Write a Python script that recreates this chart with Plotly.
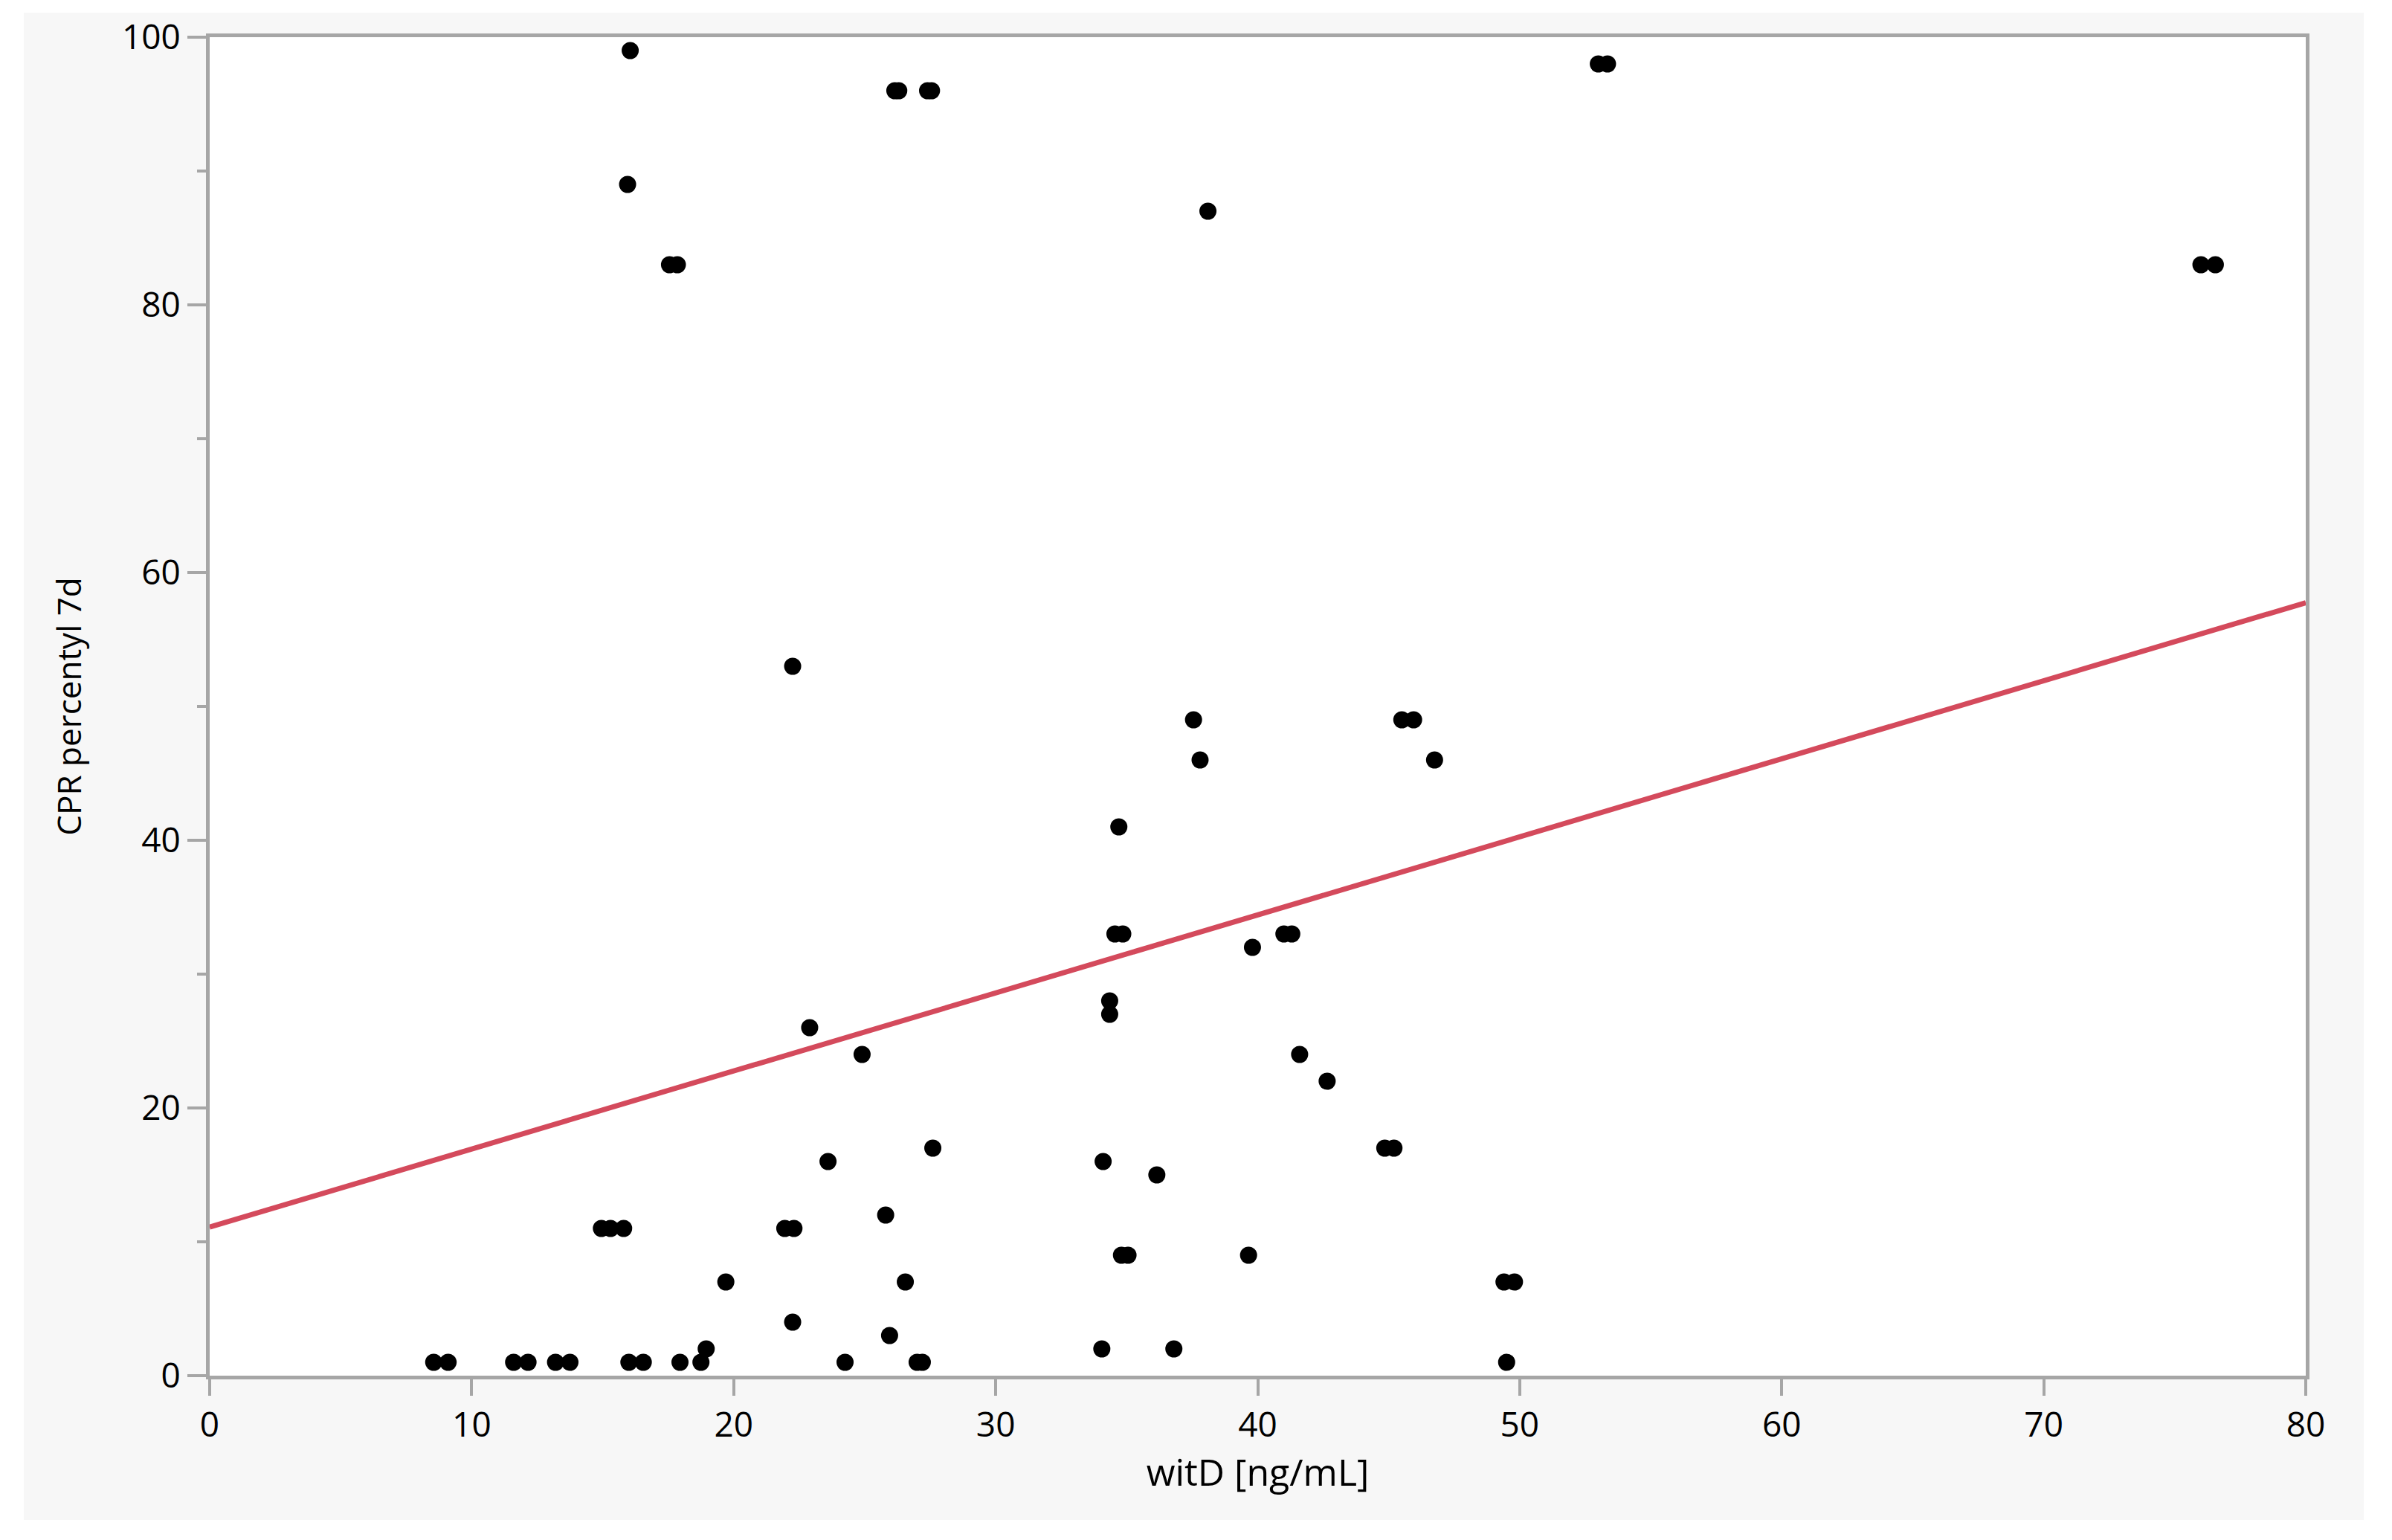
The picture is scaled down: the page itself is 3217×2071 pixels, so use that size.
import plotly.graph_objects as go

# witD vs CPR percentile
witd = [8.55, 9.1, 11.6, 12.15, 13.2, 13.75, 16.0, 16.55, 17.95, 18.75,
        18.95, 19.7, 14.95, 15.3, 15.8, 15.95, 16.05, 17.55, 17.85, 22.25,
        21.95, 22.3, 22.25, 22.9, 23.6, 24.25, 24.9, 25.8, 25.95, 26.55,
        27.0, 27.2, 26.15, 26.3, 27.4, 27.55, 27.6, 34.05, 34.1, 34.35,
        34.35, 34.55, 34.85, 34.7, 34.8, 35.05, 36.15, 36.8, 37.55, 37.8,
        38.1, 39.65, 39.8, 41.0, 41.3, 41.6, 42.65, 44.85, 45.2, 45.5,
        45.95, 46.75, 49.5, 49.4, 49.8, 53.0, 53.35, 76.0, 76.55]
cpr = [1, 1, 1, 1, 1, 1, 1, 1, 1, 1,
       2, 7, 11, 11, 11, 89, 99, 83, 83, 53,
       11, 11, 4, 26, 16, 1, 24, 12, 3, 7,
       1, 1, 96, 96, 96, 96, 17, 2, 16, 27,
       28, 33, 33, 41, 9, 9, 15, 2, 49, 46,
       87, 9, 32, 33, 33, 24, 22, 17, 17, 49,
       49, 46, 1, 7, 7, 98, 98, 83, 83]

# fitted line end points
fit_x = [0, 80]
fit_y = [11.1, 57.75]

x_ticks = [0, 10, 20, 30, 40, 50, 60, 70, 80]
y_ticks = [0, 20, 40, 60, 80, 100]

AXIS = '#a6a6a6'
FONT = "Open Sans, Noto Sans, sans-serif"

fig = go.Figure()
fig.add_trace(go.Scatter(x=witd, y=cpr, mode='markers',
                         marker=dict(color='black', size=23, line=dict(width=0)),
                         showlegend=False, cliponaxis=False))
fig.add_trace(go.Scatter(x=fit_x, y=fit_y, mode='lines',
                         line=dict(color='#d44a5c', width=7), showlegend=False))

# grey panel behind the frame, plot area stays white
fig.add_shape(type='rect', xref='paper', yref='paper', x0=-0.0887, x1=1.0277,
              y0=-0.1078, y1=1.0183, fillcolor='#f7f7f7', line_width=0, layer='below')
fig.add_shape(type='rect', xref='paper', yref='paper', x0=0, x1=1, y0=0, y1=1,
              fillcolor='white', line_width=0, layer='below')

fig.update_layout(width=3217, height=2071,
                  margin=dict(l=274, r=124, t=42, b=229),
                  paper_bgcolor='white', plot_bgcolor='white',
                  font=dict(family=FONT, size=46, color='black'))

fig.update_xaxes(range=[0, 80], tickvals=x_ticks, ticks='outside', ticklen=22, tickwidth=4,
                 tickcolor=AXIS, showline=True, linecolor=AXIS, linewidth=5, mirror=True,
                 showgrid=False, zeroline=False, automargin=False,
                 tickfont=dict(size=46, color='black'),
                 title=dict(text='witD [ng/mL]', font=dict(size=50, color='black'), standoff=0))
fig.update_yaxes(range=[0, 100], tickvals=y_ticks, ticks='outside', ticklen=25, tickwidth=4,
                 tickcolor=AXIS, showline=True, linecolor=AXIS, linewidth=5, mirror=True,
                 showgrid=False, zeroline=False, automargin=False,
                 minor=dict(dtick=10, ticks='outside', ticklen=12, tickwidth=4, tickcolor=AXIS),
                 tickfont=dict(size=46, color='black'),
                 title=dict(text='CPR percentyl 7d', font=dict(size=44, color='black'), standoff=42))

fig.write_html("out.html")
